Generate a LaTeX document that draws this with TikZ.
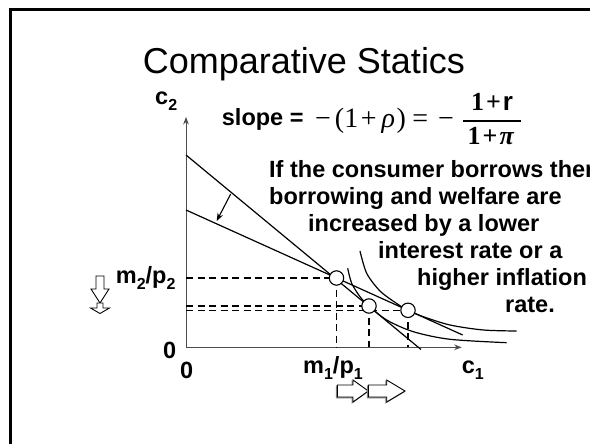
\documentclass[tikz,border=0pt]{standalone}
\usepackage{fontspec}
\setmainfont{Liberation Sans}
\newfontfamily\tms{Liberation Serif}
\usetikzlibrary{arrows.meta}
\newcommand{\lo}[1]{\raisebox{-6pt}{\fontsize{16}{16}\selectfont #1}}
\tikzset{
  lbl/.style={font=\fontsize{23.5}{27}\selectfont\bfseries, inner sep=0pt, anchor=base west},
  guide/.style={dash pattern=on 7pt off 4.5pt, line width=1.1pt},
  budget/.style={line width=1.2pt},
  icurve/.style={line width=1.2pt},
  eqpt/.style={draw, fill=white, line width=1.1pt},
  blockarr/.style={draw, fill=white, line width=0.9pt, line join=miter}
}

\begin{document}
\begin{tikzpicture}[x=1pt, y=-1pt, >=Stealth]
        \useasboundingbox (0,0) rectangle (590,444);
        \draw[line width=2.5pt] (590,9.5) -- (10.5,9.5) -- (10.5,444);
        \node[font=\fontsize{36}{36}\selectfont, inner sep=0pt, anchor=base] (title) at (304,73.5) {Comparative Statics};
        % slope of the budget line
        \node[lbl] (slope) at (221.7,125) {slope =};
        \node[inner sep=0pt, anchor=base west, font=\tms\fontsize{28}{28}\selectfont] (rho) at (315,128)
          {−\hspace{4pt}(1\hspace{2.5pt}+\hspace{5pt}\textit{ρ}\hspace{1.5pt})\hspace{6.5pt}=\hspace{10pt}−};
        \node[inner sep=0pt, anchor=base, font=\tms\fontsize{26}{26}\selectfont\bfseries] (num) at (492,111) {1\hspace{2pt}+\hspace{2pt}{\rmfamily r}};
        \node[inner sep=0pt, anchor=base, font=\tms\fontsize{26}{26}\selectfont\bfseries] (den) at (491,145) {1\hspace{2pt}+\hspace{2pt}\textit{π}};
        \draw[line width=1.2pt] (463,121) -- (521,121);
        % axes
        \coordinate (O) at (186,347.3);
        \draw[black!70, line width=1pt, ->] (O) -- (186,117);
        \draw[black!70, line width=1pt, ->] (O) -- (461.7,347.3);
        \node[lbl] (c2) at (155,105) {c\lo{2}};
        \node[lbl] (c1) at (461.7,373) {c\lo{1}};
        \node[lbl] (m2) at (115.7,283) {m\lo{2}/p\lo{2}};
        \node[lbl] (m1) at (303,373) {m\lo{1}/p\lo{1}};
        \node[lbl] (zy) at (163,358) {0};
        \node[lbl] (zx) at (180,378) {0};
        % endowment and the two optima
        \coordinate (E) at (336.5,278);
        \coordinate (A) at (369,306);
        \coordinate (B) at (408,310.3);
        \foreach \p in {E,A,B}
          {\draw[guide] (O |- \p) -- (\p); \draw[guide] (\p) -- (\p |- O);}
        \draw[budget] (186,155) -- (421,349.5);
        \draw[budget] (186,210) -- (462.7,335);
        \draw[line width=1.1pt, ->] (230.7,194) -- (216.7,221);
        \draw[icurve] plot[smooth] coordinates {(347.7,268.3) (351.7,283.3) (360,296.7) (369,306) (386.7,320) (413.3,331.7) (450,339.3) (506.7,342.7)};
        \draw[icurve] plot[smooth] coordinates {(360,251) (366.7,273.3) (380,291) (396.7,303.5) (408,310.3) (423.3,316.7) (450,325) (483.3,330) (516.7,331)};
        \foreach \p in {E,A,B}
          \draw[eqpt] (\p) circle (7.2);
        % note
        \foreach \i/\x/\y/\t in {1/269/177.5/If the consumer borrows then, 2/269/204.5/borrowing and welfare are,
            3/308/231.5/increased by a lower, 4/378/258.5/interest rate or a, 5/417/285.5/higher inflation, 6/505/312.5/rate.}
          \node[lbl] (note\i) at (\x,\y) {\t};
        % shifts of m2/p2 and m1/p1
        \foreach \x/\m/\t in {337.3/353/368.3, 368.3/386.7/405}
          {\draw[blockarr, black!45] (\x-1,386) -- (\m-1,386) -- (\m-1,381) -- (\t-1,392) -- (\m-1,403) -- (\m-1,398) -- (\x-1,398) -- cycle;
           \draw[blockarr] (\x,385) -- (\m,385) -- (\m,380) -- (\t,391) -- (\m,402) -- (\m,397) -- (\x,397) -- cycle;}
        \draw[blockarr] (96,276) -- (104,276) -- (104,289) -- (109,289) -- (100,303) -- (91,289) -- (96,289) -- cycle;
        \draw[blockarr] (97,303) -- (103,303) -- (103,308) -- (109.5,308) -- (100,313.5) -- (90.5,308) -- (97,308) -- cycle;
      \end{tikzpicture}
\end{document}
